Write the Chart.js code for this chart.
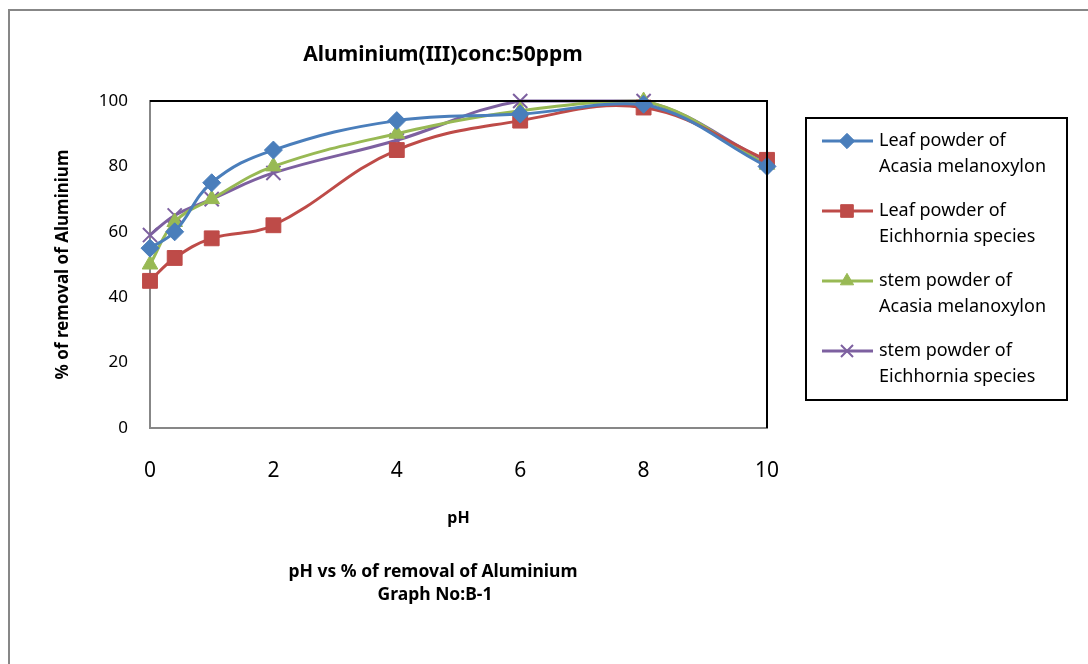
<!DOCTYPE html>
<html>
<head>
<meta charset="utf-8">
<script src="https://cdn.jsdelivr.net/npm/chart.js@4.4.1/dist/chart.umd.min.js"></script>
<style>
  body { margin: 0; background: #fff; }
  #wrap { width: 1088px; height: 664px; }
</style>
</head>
<body>
<div id="wrap"><canvas id="phChart" width="1088" height="664"></canvas></div>
<script>
const phValues = [0, 0.4, 1, 2, 4, 6, 8, 10];
const leafAcasia = [55, 60, 75, 85, 94, 96, 99, 80];
const leafEichhornia = [45, 52, 58, 62, 85, 94, 98, 82];
const stemAcasia = [50, 63, 70, 80, 90, 97, 100, 80.5];
const stemEichhornia = [59, 65, 70, 78, 88, 100, 100, 81.5];

const seriesNames = [
    ['Leaf powder of', 'Acasia melanoxylon'],
    ['Leaf powder of', 'Eichhornia species'],
    ['stem powder of', 'Acasia melanoxylon'],
    ['stem powder of', 'Eichhornia species'],
];
const xTicks = [0, 2, 4, 6, 8, 10];
const yTicks = [0, 20, 40, 60, 80, 100];

const chartTitle = 'Aluminium(III)conc:50ppm';
const bottomNotes = ['pH vs % of removal of Aluminium', 'Graph No:B-1'];

const FONT = "'Noto Sans', 'DejaVu Sans', sans-serif";

function toPoints(ys) {
    return phValues.map((x, i) => ({x: x, y: ys[i]}));
}

const styles = [
    {color: '#4A7EBB', point: 'rectRot', radius: 9},
    {color: '#BE4B48', point: 'rect', radius: 10.5},
    {color: '#98B954', point: 'triangle', radius: 9},
    {color: '#7D60A0', point: 'crossRot', radius: 10},
];

const allSeries = [leafAcasia, leafEichhornia, stemAcasia, stemEichhornia];

const datasets = allSeries.map((ys, i) => ({
    label: seriesNames[i].join(' '),
    data: toPoints(ys),
    borderColor: styles[i].color,
    backgroundColor: styles[i].color,
    pointStyle: styles[i].point,
    pointRadius: styles[i].radius,
    pointBorderWidth: styles[i].point === 'crossRot' ? 2 : 1,
    borderWidth: 3,
    tension: 0.4,
    clip: false,
}));

// frame, plot border, titles and boxed legend
const decor = {
    id: 'decor',
    afterDraw(chart) {
        const ctx = chart.ctx;
        const a = chart.chartArea;
        ctx.save();
        // outer frame
        ctx.strokeStyle = '#878787';
        ctx.lineWidth = 2;
        ctx.beginPath();
        ctx.moveTo(9, 700);
        ctx.lineTo(9, 10);
        ctx.lineTo(1100, 10);
        ctx.stroke();
        // plot area top/right border
        ctx.strokeStyle = '#000';
        ctx.lineWidth = 2;
        ctx.beginPath();
        ctx.moveTo(a.left, a.top);
        ctx.lineTo(a.right, a.top);
        ctx.lineTo(a.right, a.bottom);
        ctx.stroke();

        ctx.fillStyle = '#000';
        ctx.textAlign = 'center';
        ctx.textBaseline = 'middle';
        ctx.font = 'bold 21px ' + FONT;
        ctx.fillText(chartTitle, 443, 55);
        ctx.font = 'bold 17.5px ' + FONT;
        ctx.fillText(bottomNotes[0], 433, 572);
        ctx.fillText(bottomNotes[1], 435, 595);

        // legend
        ctx.strokeStyle = '#000';
        ctx.lineWidth = 2;
        ctx.strokeRect(806, 118, 261, 282);
        ctx.font = '18px ' + FONT;
        ctx.textAlign = 'left';
        chart.data.datasets.forEach((ds, i) => {
            const y = 141 + i * 70;
            ctx.strokeStyle = ds.borderColor;
            ctx.lineWidth = 3;
            ctx.beginPath();
            ctx.moveTo(822, y);
            ctx.lineTo(873, y);
            ctx.stroke();
            ctx.fillStyle = ds.backgroundColor;
            ctx.lineWidth = ds.pointBorderWidth;
            Chart.helpers.drawPoint(ctx, {pointStyle: ds.pointStyle, radius: ds.pointRadius * 0.85, rotation: 0, borderWidth: ds.pointBorderWidth}, 847, y);
            ctx.fillStyle = '#000';
            seriesNames[i].forEach((line, j) => ctx.fillText(line, 879, y + j * 26));
        });
        ctx.restore();
    }
};

new Chart(document.getElementById('phChart'), {
    type: 'line',
    data: {datasets: datasets},
    options: {
        responsive: false,
        animation: false,
        layout: {padding: {left: 0, top: 101, right: 321, bottom: 136}},
        plugins: {
            legend: {display: false},
            tooltip: {enabled: false},
        },
        scales: {
            x: {
                type: 'linear',
                min: 0,
                max: 10,
                afterFit: s => { s.height = 100; },
                afterBuildTicks: s => { s.ticks = xTicks.map(v => ({value: v})); },
                grid: {display: false, drawTicks: false},
                border: {color: '#878787', width: 2},
                ticks: {color: '#000', padding: 30, font: {family: FONT, size: 21}},
                title: {display: true, text: 'pH', color: '#000', padding: 0,
                        font: {family: FONT, size: 16, weight: 'bold'}},
            },
            y: {
                min: 0,
                max: 100,
                afterFit: s => { s.width = 150; },
                afterBuildTicks: s => { s.ticks = yTicks.map(v => ({value: v})); },
                grid: {display: false, drawTicks: false},
                border: {color: '#878787', width: 2},
                ticks: {color: '#000', padding: 22, font: {family: FONT, size: 17}},
                title: {display: true, text: '% of removal of Aluminium', color: '#000',
                        padding: {top: 53}, font: {family: FONT, size: 17, weight: 'bold'}},
            },
        },
    },
    plugins: [decor],
});
</script>
</body>
</html>
